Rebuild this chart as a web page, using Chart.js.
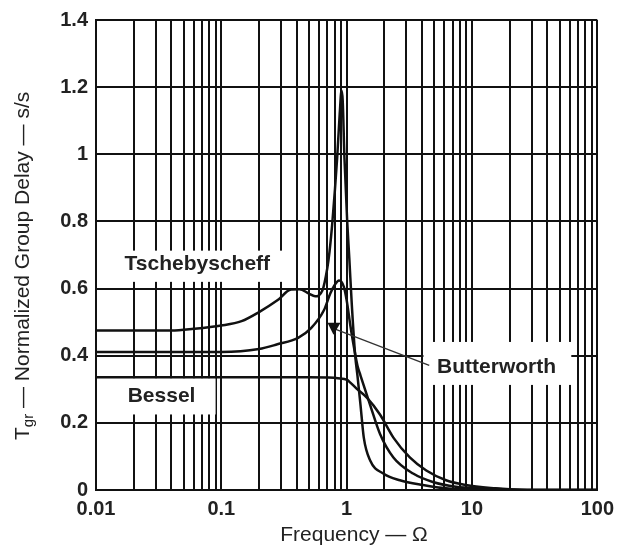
<!DOCTYPE html>
<html>
<head>
<meta charset="utf-8">
<script src="https://cdn.jsdelivr.net/npm/chart.js@4.4.1/dist/chart.umd.min.js"></script>
<style>
  html, body { margin: 0; padding: 0; background: #fff; }
</style>
</head>
<body>
<canvas id="delayChart" width="621" height="552"></canvas>
<script>
// axis ticks
const decades = [0.01, 0.1, 1, 10, 100];
const yTicks = [0, 0.2, 0.4, 0.6, 0.8, 1, 1.2, 1.4];

// Tschebyscheff
const tschebFreq = [0.01, 0.04, 0.06, 0.1, 0.145, 0.2, 0.28, 0.36, 0.42, 0.5, 0.56, 0.64, 0.7, 0.73, 0.77, 0.84, 0.88, 0.91, 0.93, 0.96, 1.01, 1.05, 1.1, 1.17, 1.22, 1.29, 1.37, 1.54, 1.96, 2.66, 4.06, 6.2, 12, 20, 100];
const tschebDelay = [0.475, 0.475, 0.48, 0.49, 0.503, 0.53, 0.565, 0.597, 0.598, 0.585, 0.577, 0.594, 0.66, 0.71, 0.8, 0.99, 1.12, 1.19, 1.16, 0.99, 0.8, 0.69, 0.55, 0.4, 0.34, 0.253, 0.156, 0.088, 0.049, 0.029, 0.015, 0.005, 0.001, 0, 0];

// Butterworth
const butterFreq = [0.01, 0.1, 0.2, 0.28, 0.41, 0.52, 0.66, 0.74, 0.8, 0.87, 0.95, 1.0, 1.07, 1.15, 1.22, 1.29, 1.54, 1.85, 2.36, 3.39, 4.87, 7.44, 12.8, 20, 30, 100];
const butterDelay = [0.411, 0.411, 0.42, 0.434, 0.453, 0.482, 0.536, 0.585, 0.61, 0.624, 0.605, 0.565, 0.49, 0.42, 0.37, 0.341, 0.253, 0.166, 0.097, 0.049, 0.024, 0.01, 0.005, 0.001, 0, 0];

// Bessel
const besselFreq = [0.01, 0.5, 0.7, 0.85, 1.01, 1.07, 1.2, 1.45, 1.85, 2.36, 3.19, 4.32, 6.21, 8.93, 15.4, 20, 30, 100];
const besselDelay = [0.336, 0.336, 0.335, 0.333, 0.328, 0.32, 0.302, 0.275, 0.224, 0.156, 0.097, 0.058, 0.029, 0.015, 0.005, 0.002, 0, 0];

// grid lines at 1..9 of every decade
const gridFreqs = [];
decades.forEach((d, i) => {
  if (i === decades.length - 1) { gridFreqs.push(d); return; }
  for (let k = 1; k <= 9; k++) gridFreqs.push(Number((d * k).toPrecision(3)));
});

function points(fs, vs) {
  return fs.map((f, i) => ({ x: f, y: vs[i] }));
}

const INK = '#111';
const TEXT = '#222';

// white boxes behind the curve names, in data units
const boxes = [
  { f0: 0.0102, f1: 0.34, v0: 0.62, v1: 0.713 },
  { f0: 0.0102, f1: 0.09, v0: 0.225, v1: 0.333 },
  { f0: 4.1, f1: 62, v0: 0.313, v1: 0.441 }
];
const names = [
  { text: 'Tschebyscheff', f: 0.0169, v: 0.672 },
  { text: 'Bessel', f: 0.0179, v: 0.278 },
  { text: 'Butterworth', f: 5.27, v: 0.365 }
];

const overlay = {
  id: 'overlay',
  beforeDatasetsDraw(chart) {
    const { ctx, scales: { x, y } } = chart;
    ctx.save();
    ctx.fillStyle = '#fff';
    boxes.forEach(b => {
      const x0 = x.getPixelForValue(b.f0), x1 = x.getPixelForValue(b.f1);
      const y0 = y.getPixelForValue(b.v1), y1 = y.getPixelForValue(b.v0);
      ctx.fillRect(x0, y0, x1 - x0, y1 - y0);
    });
    ctx.restore();
  },
  afterDatasetsDraw(chart) {
    const { ctx, scales: { x, y } } = chart;
    ctx.save();
    ctx.fillStyle = TEXT;
    ctx.font = 'bold 21px "Liberation Sans", Arial, sans-serif';
    ctx.textBaseline = 'middle';
    ctx.textAlign = 'left';
    names.forEach(n => ctx.fillText(n.text, x.getPixelForValue(n.f), y.getPixelForValue(n.v)));

    // pointer from Butterworth label
    const ax = x.getPixelForValue(4.56), ay = y.getPixelForValue(0.371);
    const bx = x.getPixelForValue(0.8), by = y.getPixelForValue(0.48);
    ctx.strokeStyle = '#333';
    ctx.lineWidth = 1.3;
    ctx.beginPath();
    ctx.moveTo(ax, ay);
    ctx.lineTo(bx, by);
    ctx.stroke();
    ctx.fillStyle = INK;
    ctx.beginPath();
    ctx.moveTo(bx - 7, by - 6);
    ctx.lineTo(bx + 6, by - 6);
    ctx.lineTo(bx - 1, by + 6);
    ctx.closePath();
    ctx.fill();
    ctx.restore();
  },
  afterDraw(chart) {
    const { ctx } = chart;
    ctx.save();
    ctx.fillStyle = TEXT;
    ctx.textBaseline = 'alphabetic';
    // x title
    ctx.font = '21px "Liberation Sans", Arial, sans-serif';
    ctx.textAlign = 'center';
    ctx.fillText('Frequency \u2014 \u03A9', 354, 541);
    // y title with subscript
    ctx.translate(29, 440);
    ctx.rotate(-Math.PI / 2);
    ctx.textAlign = 'left';
    ctx.fillText('T', 0, 0);
    let w = ctx.measureText('T').width;
    ctx.font = '15px "Liberation Sans", Arial, sans-serif';
    ctx.fillText('gr', w, 4);
    w += ctx.measureText('gr').width;
    ctx.font = '21px "Liberation Sans", Arial, sans-serif';
    ctx.fillText(' \u2014 Normalized Group Delay \u2014 s/s', w, 0);
    ctx.restore();
  }
};

const tickFont = { family: '"Liberation Sans", Arial, sans-serif', size: 20, weight: 'bold' };
const line = { borderColor: INK, borderWidth: 2.5, pointRadius: 0, fill: false, cubicInterpolationMode: 'monotone' };

new Chart(document.getElementById('delayChart'), {
  type: 'line',
  data: {
    datasets: [
      { ...line, label: 'Tschebyscheff', data: points(tschebFreq, tschebDelay) },
      { ...line, label: 'Butterworth', data: points(butterFreq, butterDelay) },
      { ...line, label: 'Bessel', data: points(besselFreq, besselDelay) }
    ]
  },
  options: {
    responsive: false,
    animation: false,
    layout: { padding: { left: 0, right: 18, top: 11, bottom: 0 } },
    plugins: {
      legend: { display: false },
      tooltip: { enabled: false }
    },
    scales: {
      x: {
        type: 'logarithmic',
        min: 0.01,
        max: 100,
        afterBuildTicks: s => { s.ticks = gridFreqs.map(v => ({ value: v })); },
        afterFit: s => { s.height = 62; },
        ticks: {
          autoSkip: false,
          maxRotation: 0,
          padding: 7,
          color: TEXT,
          font: tickFont,
          callback: v => decades.includes(v) ? String(v) : ''
        },
        grid: { color: INK, lineWidth: 2, drawTicks: false },
        border: { color: INK, width: 2 }
      },
      y: {
        min: 0,
        max: 1.4,
        afterBuildTicks: s => { s.ticks = yTicks.map(v => ({ value: v })); },
        afterFit: s => { s.width = 96; },
        ticks: {
          padding: 8,
          color: TEXT,
          font: tickFont,
          callback: v => String(Number(v.toFixed(1)))
        },
        grid: { color: INK, lineWidth: 2, drawTicks: false },
        border: { color: INK, width: 2 }
      }
    }
  },
  plugins: [overlay]
});
</script>
</body>
</html>
